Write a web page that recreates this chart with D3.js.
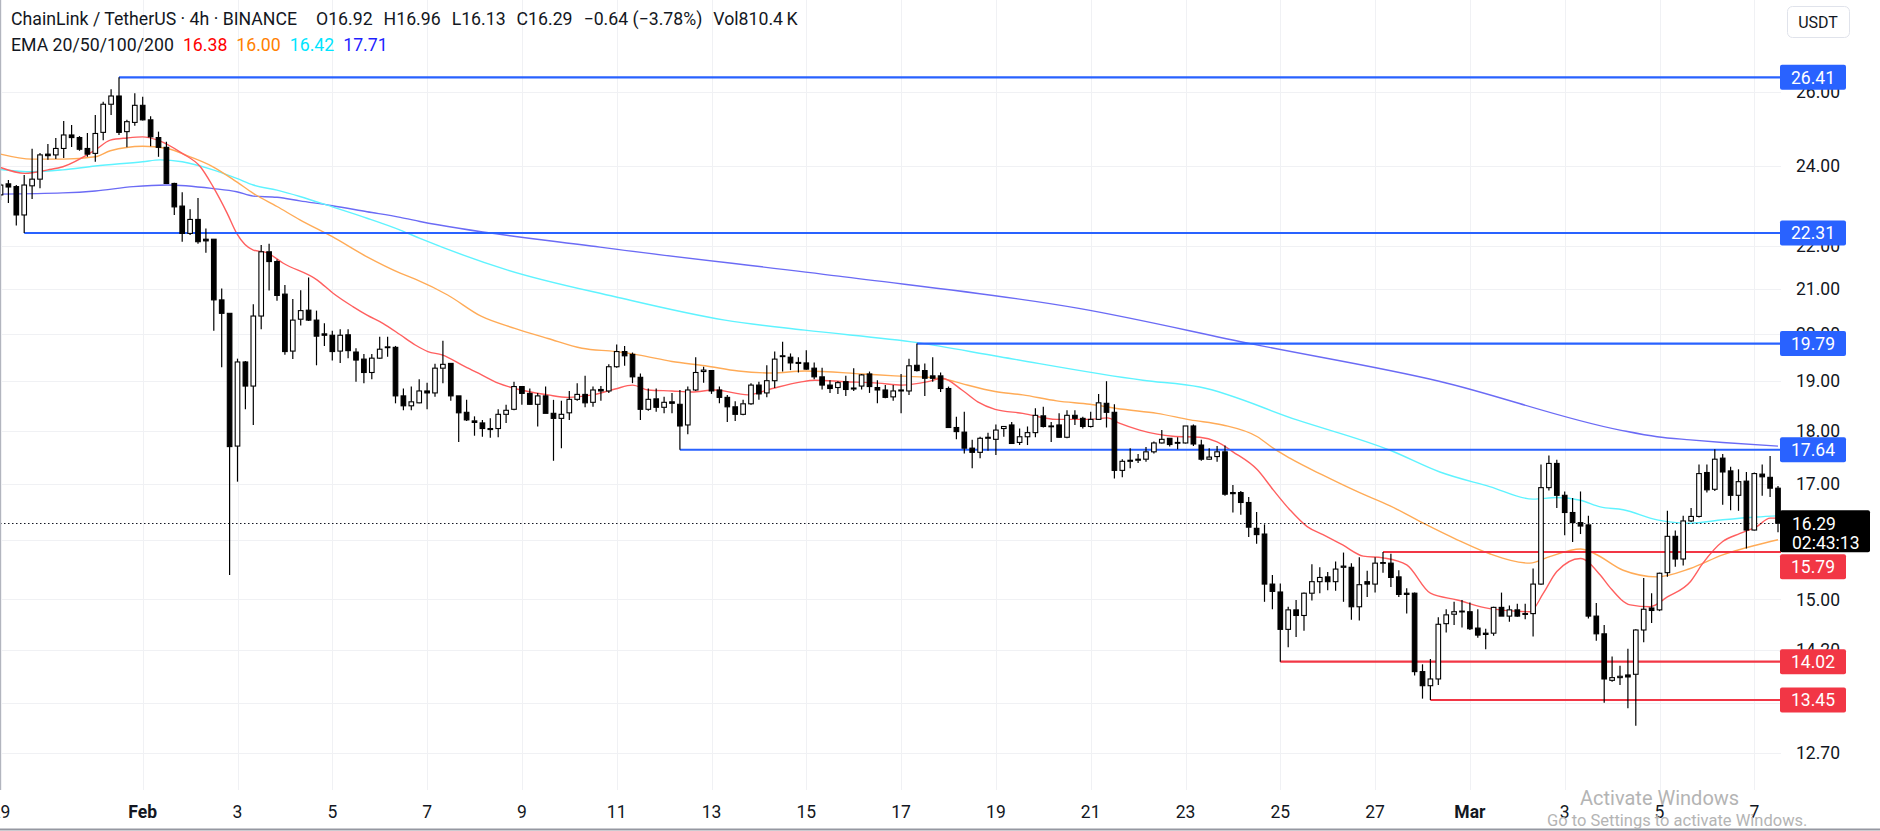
<!DOCTYPE html>
<html><head><meta charset="utf-8">
<script src="https://cdn.jsdelivr.net/npm/d3@7"></script>
<style>
html,body{margin:0;padding:0;background:#fff;}
svg{display:block;font-family:Roboto,"Noto Sans",sans-serif;}
</style></head><body>
<svg id="chart" width="1880" height="831"></svg>
<script>
// ---------- DATA ----------
const startTime = "2025-01-29T00:00:00Z"; // first 4h candle
const openP = [23.25,23.53,23.46,22.75,23.48,23.65,24.30,24.28,24.45,24.81,24.74,24.45,24.32,24.88,25.65,25.88,24.90,25.15,25.62,25.22,
24.74,24.48,23.54,22.97,22.30,22.64,22.16,22.16,20.75,20.45,17.71,19.40,18.90,20.39,21.86,21.63,20.88,19.63,20.32,20.52,
20.30,20.00,19.97,19.63,19.98,19.61,19.46,19.18,19.48,19.72,19.71,18.70,18.50,18.56,18.80,18.76,19.27,19.37,18.70,18.37,
18.20,18.16,18.05,18.05,18.33,18.43,18.89,18.75,18.53,18.70,18.35,18.25,18.36,18.63,18.73,18.57,18.83,18.80,19.30,19.62,
19.56,19.08,18.43,18.64,18.47,18.58,18.53,18.12,18.82,19.20,19.22,18.82,18.67,18.48,18.33,18.54,18.92,18.76,19.01,19.53,
19.50,19.39,19.38,19.27,19.09,18.92,18.87,18.99,18.86,18.90,19.15,18.87,18.82,18.68,18.80,18.80,19.33,19.22,19.11,19.11,
18.85,18.07,17.98,17.67,17.59,17.86,17.84,18.05,18.12,17.78,17.89,17.97,18.30,18.10,18.12,17.88,18.31,18.25,18.09,18.23,
18.55,18.37,17.25,17.42,17.44,17.46,17.60,17.77,17.86,17.78,17.77,18.10,17.73,17.46,17.51,17.60,16.84,16.84,16.66,16.20,
16.10,15.25,15.12,14.52,14.83,14.74,15.10,15.29,15.37,15.29,15.53,15.53,14.88,15.29,15.25,15.60,15.60,15.37,15.10,15.10,
13.87,13.66,13.76,14.61,14.76,14.80,14.80,14.54,14.46,14.46,14.87,14.73,14.83,14.77,14.77,15.25,16.93,17.38,16.79,16.48,
16.30,16.26,14.73,14.45,13.74,13.78,13.82,13.83,14.51,14.86,14.83,15.44,16.06,15.67,16.33,16.41,17.21,16.90,17.48,17.24,
16.79,17.05,16.17,17.18,17.12,16.92];
const highP = [23.55,23.63,23.50,23.76,24.44,24.33,24.57,24.73,25.19,25.08,24.78,24.86,25.35,25.72,26.07,26.41,25.22,25.96,25.86,25.32,
24.90,24.63,23.56,23.32,22.89,23.17,22.42,22.16,21.01,20.45,19.47,19.42,20.65,22.02,22.05,21.68,21.09,20.77,20.97,21.26,
20.51,20.23,20.07,20.10,20.10,19.69,19.57,19.57,19.94,19.94,19.74,18.85,18.89,19.04,18.97,19.36,19.85,19.37,18.70,18.62,
18.29,18.22,18.25,18.43,18.52,18.99,18.90,18.85,18.76,18.89,18.62,18.60,18.80,18.96,19.11,18.89,18.90,19.35,19.77,19.74,
19.60,19.16,18.85,18.85,18.68,18.76,18.82,18.89,19.50,19.30,19.23,18.89,18.72,18.59,18.62,18.96,18.99,19.33,19.62,19.83,
19.58,19.50,19.65,19.39,19.28,19.02,19.00,19.11,19.27,19.15,19.20,19.02,18.92,18.92,19.15,19.47,19.79,19.37,19.50,19.18,
18.89,18.28,18.38,17.83,17.89,17.97,18.13,18.10,18.18,18.05,18.09,18.45,18.48,18.18,18.35,18.41,18.41,18.28,18.38,18.74,
19.00,18.53,17.46,17.67,17.56,17.69,17.80,18.02,17.86,17.88,18.10,18.13,17.83,17.67,17.71,17.72,16.98,16.87,16.76,16.49,
16.27,15.40,15.26,14.88,14.99,15.11,15.58,15.53,15.45,15.63,15.78,15.60,15.70,15.47,15.70,15.79,15.76,15.48,15.18,15.11,
13.98,14.06,14.71,14.84,14.96,14.99,14.95,14.84,14.53,14.88,15.11,14.90,14.93,14.93,15.51,17.36,17.53,17.45,16.86,16.74,
16.86,16.42,14.94,14.59,14.10,13.96,14.22,14.52,15.35,15.10,15.44,16.51,16.16,16.42,16.56,17.36,17.36,17.65,17.56,17.32,
17.27,17.22,17.21,17.36,17.52,16.96];
const lowP = [23.12,23.05,22.49,22.31,23.15,23.42,24.15,24.17,24.20,24.49,24.39,24.23,24.10,24.67,25.35,24.81,24.48,25.06,25.20,24.51,
24.23,23.53,22.75,22.10,22.26,22.05,21.84,20.07,19.29,15.40,17.04,18.43,18.12,20.10,20.96,20.73,19.55,19.46,20.18,20.28,
19.33,19.74,19.43,19.38,19.48,18.99,18.96,19.04,19.46,19.51,18.55,18.41,18.41,18.55,18.43,18.68,18.96,18.60,17.79,18.20,
17.91,17.89,17.87,17.88,18.16,18.41,18.52,18.52,18.09,18.35,17.43,17.67,18.22,18.60,18.47,18.48,18.60,18.76,19.28,19.32,
18.96,18.22,18.40,18.38,18.35,18.35,17.64,17.94,18.80,18.97,18.74,18.55,18.18,18.20,18.31,18.52,18.62,18.67,18.86,19.20,
19.23,19.18,19.23,19.04,18.83,18.76,18.74,18.70,18.80,18.83,18.76,18.55,18.65,18.60,18.35,18.72,19.20,18.70,18.99,18.78,
18.07,17.84,17.57,17.29,17.48,17.62,17.54,17.89,17.75,17.73,17.73,17.88,18.07,17.79,17.87,17.86,18.12,18.05,18.07,18.22,
18.07,17.10,17.12,17.29,17.39,17.41,17.57,17.76,17.70,17.65,17.76,17.71,17.43,17.45,17.41,16.78,16.48,16.44,16.05,15.93,
14.96,14.84,14.02,14.24,14.40,14.50,14.98,15.10,15.15,15.14,14.96,14.67,14.66,15.04,15.11,15.44,15.20,15.04,14.77,13.81,
13.47,13.45,13.67,14.47,14.59,14.55,14.51,14.39,14.21,14.42,14.73,14.64,14.72,14.68,14.41,15.24,16.88,16.56,16.08,15.96,
16.10,14.69,14.34,13.41,13.72,13.67,13.33,13.08,14.32,14.62,14.81,15.37,15.54,15.56,16.31,16.39,16.84,16.87,16.62,16.52,
16.51,15.85,16.16,16.78,16.76,16.13];
const closeP = [23.50,23.45,22.75,23.50,23.65,24.28,24.26,24.45,24.81,24.74,24.43,24.30,24.85,25.65,25.88,24.88,25.17,25.62,25.22,24.76,
24.48,23.54,22.95,22.30,22.64,22.10,22.12,20.75,20.45,17.70,19.40,18.90,20.39,21.86,21.63,20.85,19.62,20.30,20.51,20.30,
19.95,19.97,19.62,19.97,19.64,19.44,19.18,19.48,19.67,19.71,18.70,18.50,18.58,18.80,18.76,19.27,19.35,18.70,18.36,18.22,
18.17,18.05,18.03,18.33,18.41,18.89,18.75,18.53,18.70,18.35,18.25,18.33,18.63,18.73,18.56,18.82,18.80,19.30,19.62,19.53,
19.09,18.43,18.63,18.47,18.57,18.55,18.10,18.82,19.18,19.23,18.80,18.67,18.48,18.33,18.54,18.92,18.74,19.01,19.46,19.52,
19.38,19.37,19.25,19.09,18.92,18.85,18.97,18.83,18.84,19.13,18.89,18.82,18.67,18.80,18.82,19.32,19.22,19.06,19.06,18.85,
18.07,17.99,17.67,17.59,17.86,17.88,18.02,18.09,17.76,17.89,17.97,18.31,18.09,18.09,17.88,18.31,18.25,18.09,18.23,18.56,
18.37,17.25,17.42,17.44,17.46,17.60,17.77,17.84,17.74,17.77,18.10,17.75,17.46,17.50,17.60,16.81,16.82,16.66,16.22,16.09,
15.25,15.13,14.52,14.83,14.74,15.10,15.29,15.36,15.29,15.50,15.55,14.88,15.24,15.25,15.60,15.61,15.36,15.08,15.08,13.87,
13.66,13.76,14.60,14.75,14.80,14.81,14.53,14.43,14.44,14.87,14.73,14.83,14.73,14.76,15.25,16.93,17.38,16.79,16.48,16.30,
16.24,14.73,14.45,13.76,13.78,13.80,13.79,14.51,14.84,14.82,15.43,16.06,15.67,16.33,16.41,17.19,16.89,17.46,17.22,16.79,
17.04,16.17,17.19,17.13,16.92,16.29];

// EMA readings: candle index (4h steps from startTime) and value
const ema20Idx = [0,3.1,6,7.9,12,13.9,16,18,19.9,23,25.3,26.9,28.7,29.9,32,33.7,35.8,40.1,42.1,44.6,46.4,48.4,50.6,52.5,54.1,55.9,58.8,60.9,63,65.1,69.3,71.8,74.9,77.8,80,82,85,87.5,90.4,94.6,97.7,101.2,103.1,106.9,111.1,114.1,117.4,119.2,121.7,123.7,125.9,129.4,133.7,137.9,140.1,141.7,144.2,146.4,148.4,151.8,154,156,159.1,161.1,163.2,165.4,167.4,169.9,172.5,175,178,181,184.4,188.5,193.6,195.3,197,200,202.5,203.7,206.3,208.8,211,213.9,215.5,218,220.2,222.3,224,225];
const ema20Val = [23.95,23.80,23.89,23.97,24.41,24.67,24.73,24.76,24.67,24.32,23.97,23.46,22.79,22.30,21.90,21.84,21.59,21.20,20.90,20.60,20.41,20.23,19.98,19.76,19.62,19.55,19.30,19.13,18.96,18.85,18.72,18.67,18.72,18.84,18.92,18.82,18.80,18.78,18.82,18.72,18.85,18.98,19.02,18.99,18.96,18.92,18.99,19.06,18.82,18.58,18.43,18.35,18.23,18.23,18.26,18.15,18.02,17.94,17.90,17.88,17.79,17.60,17.26,16.89,16.53,16.23,16.09,15.91,15.72,15.69,15.57,15.10,14.99,14.85,14.80,15.10,15.46,15.68,15.40,15.20,14.91,14.88,15.04,15.29,15.60,15.97,16.11,16.23,16.38,16.38];
const ema50Idx = [0,4,7.9,12,13.9,18,21.1,24,26.9,29.9,32,35,37.9,42,46.4,50.6,52.5,56.6,60.9,65.1,69.3,73.6,77.8,80.7,85,89.2,93.4,97.7,101.8,109.1,113.2,117.4,119.6,121.7,125.9,129.4,133.7,137.9,142.1,146.4,150.6,154.7,159.1,161.1,163.2,167.4,171.7,175.9,180.1,184.4,188.5,193.6,196.1,200,201.8,205.4,209.7,213.9,218,222.3,225];
const ema50Val = [24.30,24.17,24.17,24.23,24.39,24.51,24.45,24.23,23.97,23.58,23.29,22.96,22.63,22.22,21.74,21.36,21.22,20.86,20.38,20.12,19.90,19.69,19.62,19.55,19.41,19.32,19.21,19.17,19.21,19.15,19.11,19.08,19.04,18.95,18.79,18.72,18.60,18.53,18.43,18.35,18.22,18.12,17.89,17.67,17.48,17.16,16.86,16.60,16.29,16.00,15.76,15.60,15.71,15.84,15.76,15.48,15.37,15.51,15.74,15.91,16.00];
const ema100Idx = [0,4,7.9,12,18,20.2,23,26.9,29.9,32,35,37.9,42,46.4,50.6,53.1,64.2,77.8,91.7,101.8,116.1,126.5,144.6,151.8,164.1,175.9,182.2,188.5,194,197,200,202.5,205.4,209.7,213.9,218,222.3,225];
const ema100Val = [23.90,23.84,23.89,23.99,24.10,24.15,24.10,23.89,23.67,23.50,23.37,23.21,22.95,22.67,22.38,22.18,21.43,20.82,20.30,20.08,19.81,19.51,19.02,18.88,18.22,17.63,17.22,16.95,16.72,16.75,16.70,16.58,16.53,16.35,16.29,16.35,16.40,16.42];
const ema200Idx = [0,7.9,12,16.8,21.1,26.9,29.9,32,35,37.9,42,46.4,50.6,53.1,75.9,106.1,136.5,158.5,182.1,205,209.7,213.9,218,225];
const ema200Val = [23.27,23.30,23.35,23.46,23.50,23.41,23.33,23.22,23.19,23.10,22.98,22.83,22.69,22.59,21.97,21.29,20.56,19.78,19.00,18.02,17.89,17.83,17.78,17.71];

// Horizontal levels: value, candle index where the line starts, colour group
const levelVal = [26.41, 22.31, 19.79, 17.64, 15.79, 14.02, 13.45];
const levelStart = [15, 3, 116, 86, 175, 162, 181];
const levelKind = ["blue","blue","blue","blue","red","red","red"];

const priceTicks = [26, 24, 22, 21, 20, 19, 18, 17, 16, 15, 14.2, 13.4, 12.7];
const dateTicks = ["2025-01-29","2025-02-01","2025-02-03","2025-02-05","2025-02-07","2025-02-09","2025-02-11","2025-02-13","2025-02-15","2025-02-17","2025-02-19","2025-02-21","2025-02-23","2025-02-25","2025-02-27","2025-03-01","2025-03-03","2025-03-05","2025-03-07"];
const dateLabels = ["29","Feb","3","5","7","9","11","13","15","17","19","21","23","25","27","Mar","3","5","7"];

const lastPrice = 16.29, countdown = "02:43:13";
const headerMain = "ChainLink / TetherUS · 4h · BINANCE";
const headerOHLC = ["O16.92","H16.96","L16.13","C16.29","−0.64 (−3.78%)","Vol810.4\u2009K"];
const emaLabel = "EMA 20/50/100/200";
const emaLast = ["16.38","16.00","16.42","17.71"];

// ---------- LAYOUT ----------
const W = 1880, H = 831;
const plotR = 1781, plotB = 790;
const STEP = 4*3600*1000;
const t0 = new Date(startTime).getTime();
const tAt = i => new Date(t0 + i*STEP);

const x = d3.scaleUtc().domain([tAt(0), tAt(225)]).range([0.5, 1778]);
const y = d3.scaleLog().domain([13.45, 26.41]).range([700, 77.3]);

const svg = d3.select("#chart");
svg.append("rect").attr("width",W).attr("height",H).attr("fill","#fff");

const defs = svg.append("defs");
defs.append("clipPath").attr("id","plot").append("rect").attr("x",0).attr("y",0).attr("width",plotR).attr("height",plotB);

const g = svg.append("g").attr("clip-path","url(#plot)");

// grid
g.selectAll(".hg").data(priceTicks).join("line")
 .attr("x1",0).attr("x2",plotR).attr("y1",d=>Math.round(y(d))+0.5).attr("y2",d=>Math.round(y(d))+0.5)
 .attr("stroke","#f0f1f4").attr("stroke-width",1);
const dates = dateTicks.map(s=>new Date(s+"T00:00:00Z"));
g.selectAll(".vg").data(dates).join("line")
 .attr("x1",d=>Math.round(x(d))+0.5).attr("x2",d=>Math.round(x(d))+0.5).attr("y1",0).attr("y2",plotB)
 .attr("stroke","#f0f1f4").attr("stroke-width",1);

// EMA lines
const emaDefs = [
 [ema200Idx, ema200Val, "#6b6bf5"],
 [ema100Idx, ema100Val, "#5ff3ff"],
 [ema50Idx, ema50Val, "#ffab57"],
 [ema20Idx, ema20Val, "#ff5f5f"]
];
const line = d3.line().x(d=>x(tAt(d[0]))).y(d=>y(d[1])).curve(d3.curveMonotoneX);
emaDefs.forEach(([ix, vs, c])=>{
  g.append("path").datum(ix.map((v,k)=>[v,vs[k]])).attr("d",line)
   .attr("fill","none").attr("stroke",c).attr("stroke-width",1.4);
});

// level lines
const levelColor = {blue:"#2962ff", red:"#f23645"};
g.selectAll(".lvl").data(levelVal).join("line")
 .attr("x1",(d,k)=>x(tAt(levelStart[k]))).attr("x2",plotR)
 .attr("y1",d=>y(d)).attr("y2",d=>y(d))
 .attr("stroke",(d,k)=>levelColor[levelKind[k]]).attr("stroke-width",2.2);

// last price dotted line
g.append("line").attr("x1",0).attr("x2",plotR).attr("y1",Math.round(y(lastPrice))+0.5).attr("y2",Math.round(y(lastPrice))+0.5)
 .attr("stroke","#131722").attr("stroke-width",1).attr("stroke-dasharray","1.5,2.5");

// candles
const idx = d3.range(openP.length);
const bw = 4.6;
const cg = g.append("g");
idx.forEach(i=>{
  const cx = x(tAt(i));
  const o = openP[i], c = closeP[i], h = highP[i], l = lowP[i];
  const up = c >= o;
  const top = y(Math.max(o,c)), bot = y(Math.min(o,c));
  cg.append("line").attr("x1",cx).attr("x2",cx).attr("y1",y(h)).attr("y2",top).attr("stroke","#000").attr("stroke-width",1.2);
  cg.append("line").attr("x1",cx).attr("x2",cx).attr("y1",bot).attr("y2",y(l)).attr("stroke","#000").attr("stroke-width",1.2);
  cg.append("rect").attr("x",cx-bw/2).attr("y",top).attr("width",bw).attr("height",Math.max(bot-top,0.8))
    .attr("fill",up?"#fff":"#000").attr("stroke","#000").attr("stroke-width",1.1);
});

// plot borders
svg.append("line").attr("x1",0.5).attr("x2",0.5).attr("y1",0).attr("y2",plotB).attr("stroke","#b2b5be").attr("stroke-width",1);
svg.append("line").attr("x1",0).attr("x2",W).attr("y1",H-1.5).attr("y2",H-1.5).attr("stroke","#9598a1").attr("stroke-width",2);

// tag positions (the 15.79 tag is pushed below the last-price tag, as in the reference)
const axFont = 17.5;
const fmt = d3.format(".2f");
const lastTop = y(lastPrice) - 13, lastBot = y(lastPrice) + 29;
const tagY = levelVal.map(v=>{
  let yy = y(v);
  if (yy - 12.5 < lastBot && yy + 12.5 > lastTop) yy = lastBot + 14.5;
  return yy;
});
const coverCenters = tagY.concat([y(lastPrice) + 8]);

// price axis labels (those entirely hidden under a tag are not drawn)
svg.selectAll(".pt").data(priceTicks.filter(d=>!coverCenters.some(c=>Math.abs(c-y(d))<9))).join("text")
 .attr("x",1818).attr("y",d=>y(d)).attr("dy","0.36em").attr("text-anchor","middle")
 .attr("font-size",axFont).attr("fill","#131722").text(d=>fmt(d));

// level price tags
levelVal.forEach((v,k)=>{
  const yy = tagY[k];
  svg.append("rect").attr("x",1780).attr("y",yy-12.5).attr("width",66).attr("height",25).attr("rx",2)
   .attr("fill",levelColor[levelKind[k]]);
  svg.append("text").attr("x",1813).attr("y",yy).attr("dy","0.36em").attr("text-anchor","middle")
   .attr("font-size",axFont).attr("fill","#fff").text(fmt(v));
});

// last price tag
{
  const yy = y(lastPrice);
  svg.append("rect").attr("x",1780).attr("y",lastTop).attr("width",90).attr("height",lastBot-lastTop).attr("rx",2).attr("fill","#000");
  svg.append("text").attr("x",1792).attr("y",yy).attr("dy","0.36em").attr("font-size",axFont).attr("fill","#fff").text(fmt(lastPrice));
  svg.append("text").attr("x",1792).attr("y",yy+19).attr("dy","0.36em").attr("font-size",axFont).attr("fill","#fff").text(countdown);
}

// USDT box
svg.append("rect").attr("x",1787.5).attr("y",6.5).attr("width",62).attr("height",31).attr("rx",5)
 .attr("fill","#fff").attr("stroke","#e0e3eb");
svg.append("text").attr("x",1818).attr("y",22).attr("dy","0.36em").attr("text-anchor","middle")
 .attr("font-size",16).attr("fill","#131722").text("USDT");

// time axis labels
svg.selectAll(".dt").data(dates).join("text")
 .attr("x",d=>x(d)).attr("y",812).attr("dy","0.35em").attr("text-anchor","middle")
 .attr("font-size",17.5).attr("font-weight",(d,k)=>isNaN(+dateLabels[k])?"bold":"normal")
 .attr("fill","#131722").text((d,k)=>dateLabels[k]);

// header legend
const hdr = svg.append("text").attr("x",11).attr("y",19).attr("dy","0.35em").attr("font-size",17.7).attr("fill","#131722");
hdr.append("tspan").text(headerMain);
headerOHLC.forEach((s,k)=>hdr.append("tspan").attr("dx",k===0?19:11).text(s));
const emaColors = ["#ff0000","#ff8000","#00e5ff","#1f1fff"];
const hdr2 = svg.append("text").attr("x",11).attr("y",45).attr("dy","0.35em").attr("font-size",17.7).attr("fill","#131722");
hdr2.append("tspan").text(emaLabel);
emaLast.forEach((s,k)=>hdr2.append("tspan").attr("dx",9).attr("fill",emaColors[k]).text(s));

// watermark
svg.append("text").attr("x",1580).attr("y",805).attr("font-size",20).attr("fill","#b4b4b4").text("Activate Windows");
svg.append("text").attr("x",1547).attr("y",826).attr("font-size",16.5).attr("fill","#b4b4b4").text("Go to Settings to activate Windows.");
</script></body></html>
